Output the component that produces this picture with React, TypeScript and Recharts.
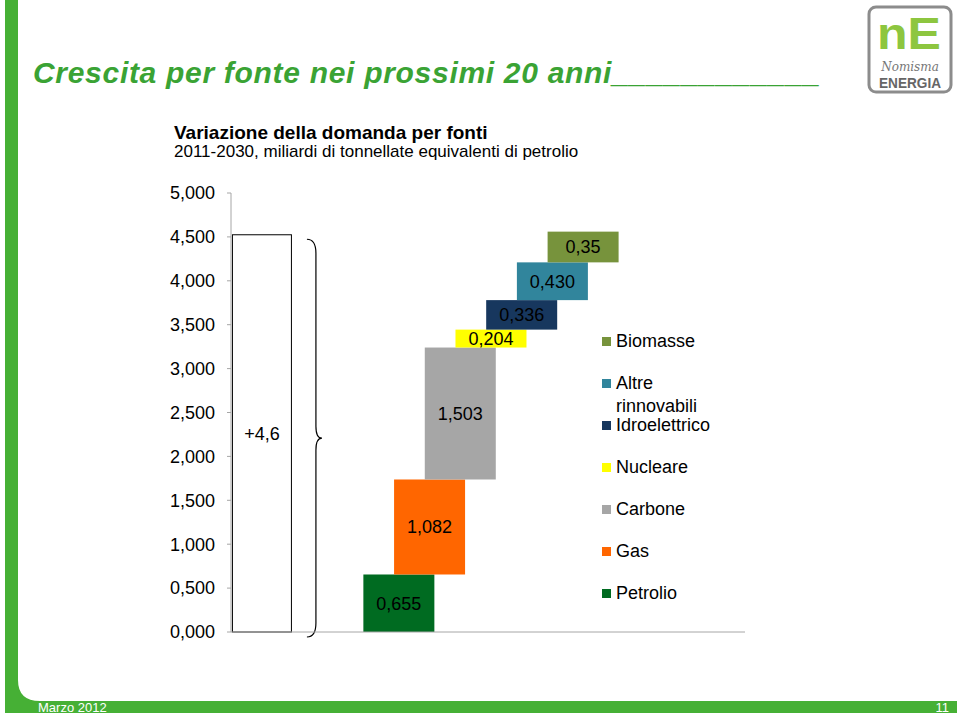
import React from 'react';
import { ComposedChart, Bar, XAxis, YAxis, LabelList, Legend, ReferenceLine } from 'recharts';

const FONT = '"Liberation Sans", Arial, Helvetica, sans-serif';

// waterfall data, 2011-2030 (miliardi di tep)
const sources = ['Petrolio', 'Gas', 'Carbone', 'Nucleare', 'Idroelettrico', 'Altre rinnovabili', 'Biomasse'];
const increments = [0.655, 1.082, 1.503, 0.204, 0.336, 0.43, 0.35];
const incrementLabels = ['0,655', '1,082', '1,503', '0,204', '0,336', '0,430', '0,35'];
const sourceColors = ['#006b21', '#ff6600', '#a6a6a6', '#ffff00', '#17375e', '#31859c', '#77933c'];
const totalGrowth = 4.53;
const totalLabel = '+4,6';
const yTicks = [0, 0.5, 1, 1.5, 2, 2.5, 3, 3.5, 4, 4.5, 5];

const GAP = 4.46; // empty slots between the total box and the first source
const STEP_W = 71;
const TOTAL_W = 60;

const steps = sources.reduce((acc, name, i) => {
  const start = acc.length ? acc[acc.length - 1].range[1] : 0;
  acc.push({
    name,
    slot: GAP + i,
    range: [start, start + increments[i]],
    label: incrementLabels[i],
    kind: 'step',
    color: sourceColors[i],
  });
  return acc;
}, [] as any[]);

const rows = [
  { name: 'Totale', slot: 0, range: [0, totalGrowth], label: totalLabel, kind: 'total', color: '#ffffff' },
  ...steps,
];

const fmt = (v: number) => v.toFixed(3).replace('.', ',');

function BarShape(props: any) {
  const { x, y, width, height } = props;
  const p = props.payload || props;
  const cx = x + width / 2;
  if (p.kind === 'total') {
    const left = cx - TOTAL_W / 2;
    const right = cx + TOTAL_W / 2;
    const top = y + 5;
    const bottom = y + height + 5;
    const mid = (top + bottom) / 2;
    const xl = right + 15;
    const xv = right + 24;
    const xt = right + 30;
    const d = `M ${xl} ${top} Q ${xv} ${top} ${xv} ${top + 14} L ${xv} ${mid - 12} Q ${xv} ${mid} ${xt} ${mid} Q ${xv} ${mid} ${xv} ${mid + 12} L ${xv} ${bottom - 14} Q ${xv} ${bottom} ${xl} ${bottom}`;
    return (
      <g>
        <rect x={left + 0.5} y={y + 0.5} width={TOTAL_W - 1} height={height - 0.5} fill="#fff" stroke="#000" strokeWidth={1} />
        <path d={d} fill="none" stroke="#000" strokeWidth={1.2} />
      </g>
    );
  }
  return <rect x={cx - STEP_W / 2} y={y} width={STEP_W} height={height} fill={p.color} />;
}

function LegendBox() {
  const items = sources.map((s, i) => ({ s, c: sourceColors[i] })).reverse();
  return (
    <div style={{ fontFamily: FONT, fontSize: 18, color: '#000' }}>
      {items.map((it) => (
        <div key={it.s} style={{ height: 42, boxSizing: 'border-box', paddingTop: 9.5, display: 'flex', alignItems: 'flex-start' }}>
          <span style={{ width: 9, height: 9, background: it.c, marginTop: 7, marginLeft: 2, marginRight: 5, flex: 'none' }} />
          <span style={{ lineHeight: '23px', maxWidth: 110, whiteSpace: 'normal' }}>{it.s}</span>
        </div>
      ))}
    </div>
  );
}

export default function App() {
  return (
    <div style={{ position: 'absolute', left: 0, top: 0, width: 960, height: 716, background: '#fff', overflow: 'hidden' }}>
      <svg width={960} height={716} style={{ position: 'absolute', left: 0, top: 0 }}>
        <path d="M 5 0 H 18 V 680 Q 18 701 40 701 H 957 V 713 H 5 Z" fill="#46b035" />
        <text x={38} y={712} fontFamily={FONT} fontSize={13} fill="#fff">Marzo 2012</text>
        <text x={949} y={712} fontFamily={FONT} fontSize={13} fill="#fff" textAnchor="end">11</text>

        <text x={33} y={83} fontFamily={FONT} fontSize={30} fontWeight="bold" fontStyle="italic" fill="#3aa334" letterSpacing={0.7}>
          Crescita per fonte nei prossimi 20 anni____________
        </text>

        <rect x={869} y={7} width={82} height={85} rx={7} fill="#fff" stroke="#8c8c8c" strokeWidth={3} />
        <text x={909} y={49} fontFamily={FONT} fontSize={44} fontWeight="bold" fill="#8dc63f" textAnchor="middle" textLength={64} lengthAdjust="spacingAndGlyphs">nE</text>
        <text x={910} y={71} fontFamily="'DejaVu Serif', serif" fontSize={12} fontStyle="italic" fill="#777" textAnchor="middle">Nomisma</text>
        <text x={910} y={88} fontFamily={FONT} fontSize={15} fontWeight="bold" fill="#666" textAnchor="middle" textLength={62} lengthAdjust="spacingAndGlyphs">ENERGIA</text>

        <text x={174} y={139} fontFamily={FONT} fontSize={19} fontWeight="bold" fill="#000">Variazione della domanda per fonti</text>
        <text x={174} y={157} fontFamily={FONT} fontSize={17} fill="#000">2011-2030, miliardi di tonnellate equivalenti di petrolio</text>
      </svg>

      <div style={{ position: 'absolute', left: 0, top: 0 }}>
        <ComposedChart width={960} height={716} data={rows} margin={{ top: 193, right: 215, bottom: 84, left: 0 }}>
          <XAxis type="number" dataKey="slot" domain={[-1, 15.74]} allowDataOverflow hide />
          <YAxis
            type="number"
            domain={[0, 5]}
            ticks={yTicks}
            interval={0}
            tickFormatter={fmt}
            width={231}
            tickSize={4}
            tickMargin={12}
            axisLine={{ stroke: '#a6a6a6' }}
            tickLine={{ stroke: '#a6a6a6' }}
            tick={{ fill: '#000', fontSize: 18, fontFamily: FONT }}
          />
          <ReferenceLine y={0} stroke="#a6a6a6" />
          <Bar dataKey="range" shape={<BarShape />} isAnimationActive={false}>
            <LabelList dataKey="label" position="center" fill="#000" fontSize={18} fontFamily={FONT} />
          </Bar>
          <Legend
            layout="vertical"
            align="center"
            verticalAlign="middle"
            content={() => <LegendBox />}
            wrapperStyle={{ left: 600, top: 320, width: 160 }}
          />
        </ComposedChart>
      </div>
    </div>
  );
}
